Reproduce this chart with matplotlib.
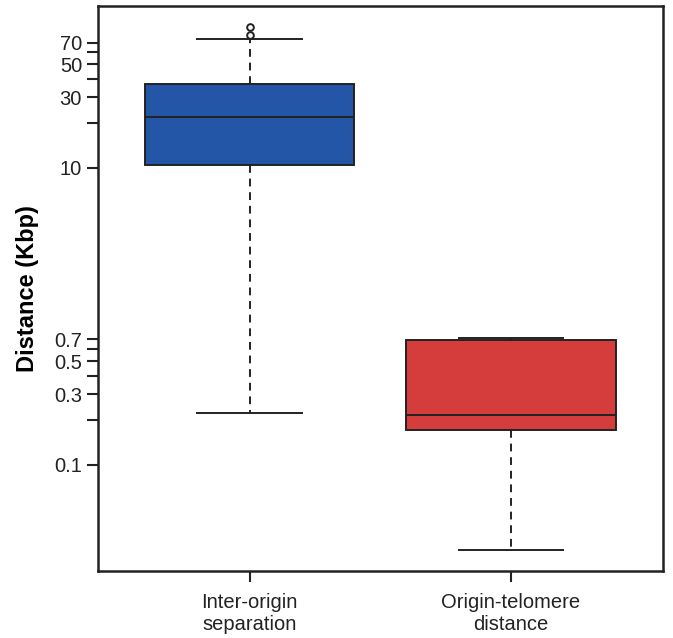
import matplotlib
matplotlib.use("Agg")
import matplotlib.pyplot as plt
from matplotlib.ticker import NullLocator

plt.rcParams['font.family'] = ['Liberation Sans', 'DejaVu Sans']

# values (Kbp)
groups = ['Inter-origin\nseparation', 'Origin-telomere\ndistance']
whis_low = [0.224, 0.0269]
q1 = [10.5, 0.1726]
median = [22.0, 0.2177]
q3 = [36.8, 0.689]
whis_high = [73.8, 0.721]
outliers = [[79.1, 88.9], []]
colors = ['#2356A6', '#D53D3D']

tick_vals = [0.1, 0.2, 0.3, 0.4, 0.5, 0.6, 0.7, 10, 20, 30, 40, 50, 60, 70]
tick_text = ['0.1', '', '0.3', '', '0.5', '', '0.7', '10', '', '30', '', '50', '', '70']

stats = []
for i in range(len(groups)):
    stats.append({'whislo': whis_low[i], 'q1': q1[i], 'med': median[i],
                  'q3': q3[i], 'whishi': whis_high[i], 'fliers': outliers[i]})

fig = plt.figure(figsize=(6.73, 6.38), dpi=100)
ax = fig.add_axes([0.1456, 0.105, 0.839, 0.8856])

edge = '#222222'
bp = ax.bxp(stats, positions=[1, 2], widths=0.8, patch_artist=True,
            showfliers=True,
            boxprops=dict(edgecolor=edge, linewidth=1.4),
            medianprops=dict(color=edge, linewidth=1.4),
            whiskerprops=dict(color=edge, linewidth=1.4, linestyle=(0, (4, 3))),
            capprops=dict(color=edge, linewidth=1.4),
            capwidths=0.4,
            flierprops=dict(marker='o', markerfacecolor='none',
                            markeredgecolor=edge, markersize=4.8, markeredgewidth=1.4))
for patch, c in zip(bp['boxes'], colors):
    patch.set_facecolor(c)

ax.set_yscale('log')
ax.set_ylim(0.0193, 123.3)
ax.set_xlim(0.42, 2.58)
ax.set_yticks(tick_vals)
ax.set_yticklabels(tick_text)
ax.yaxis.set_minor_locator(NullLocator())
ax.set_xticks([1, 2])
ax.set_xticklabels(groups)

ax.tick_params(axis='both', direction='out', length=8, width=1.5, labelsize=14.5,
               colors='#222222')
ax.tick_params(axis='x', pad=8)
for s in ax.spines.values():
    s.set_linewidth(1.8)
    s.set_color('#222222')

ax.set_ylabel('Distance (Kbp)', fontsize=17, fontweight='bold', labelpad=11)

fig.savefig('out.png', dpi=100)
